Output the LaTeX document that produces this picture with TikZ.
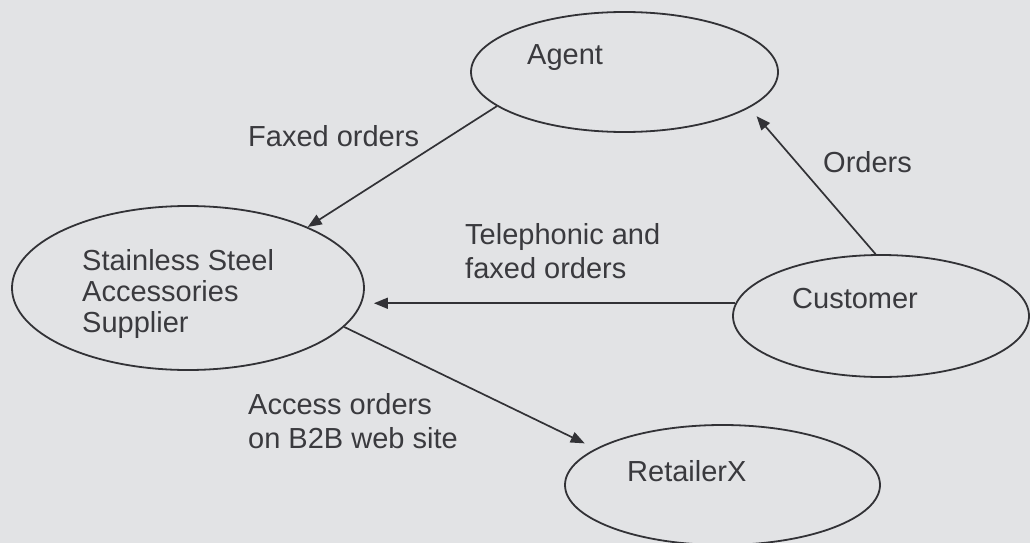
\documentclass[tikz,border=0pt]{standalone}
\usepackage{fontspec}
\setmainfont{Liberation Sans}
\usetikzlibrary{shapes.geometric,arrows.meta}
\definecolor{bgc}{RGB}{226,227,229}
\definecolor{linec}{RGB}{50,50,54}
\definecolor{textc}{RGB}{58,58,62}
\tikzset{
  oval/.style={draw=linec, line width=1.8pt, ellipse, inner sep=0pt},
  lbl/.style={anchor=base west, inner sep=0pt, text=textc, font=\fontsize{29}{34}\selectfont},
  arr/.style={draw=linec, line width=1.7pt, -{Triangle[length=14pt,width=11pt]}}
}
\begin{document}
\begin{tikzpicture}[x=1pt,y=-1pt]
\fill[bgc] (0,0) rectangle (1030,543);
\useasboundingbox (0,0) rectangle (1030,543);
% ovals
\node[oval, minimum width=307pt, minimum height=120pt] (agent) at (624.5,72) {};
\node[oval, minimum width=352pt, minimum height=164pt] (sup) at (188,288) {};
\node[oval, minimum width=296pt, minimum height=122pt] (cust) at (881,316) {};
\node[oval, minimum width=315pt, minimum height=120pt] (ret) at (722.5,485) {};
% oval texts
\node[lbl] (tagent) at (527,65) {Agent};
\node[lbl] (tsup) at (82,270) {\vtop{\baselineskip=31pt\hbox{Stainless Steel}\hbox{Accessories}\hbox{Supplier}}};
\node[lbl] (tcust) at (792,308) {Customer};
\node[lbl] (tret) at (627,481) {RetailerX};
% connectors
\draw[arr] (agent.195.7) -- (sup.27.9);
\draw[arr, shorten >=9pt] (cust.175) -- (cust.175 -| sup.east);
\draw[arr, shorten >=11pt] (cust.95.6) -- (agent.-16);
\draw[arr, shorten >=12pt] (sup.-14) -- (ret.164.9);
% connector labels
\node[lbl] (lfax) at (248,146) {Faxed orders};
\node[lbl] (lord) at (823,172) {Orders};
\node[lbl] (ltel) at (465,244) {\vtop{\baselineskip=34pt\hbox{Telephonic and}\hbox{faxed orders}}};
\node[lbl] (lacc) at (248,414) {\vtop{\baselineskip=34pt\hbox{Access orders}\hbox{on B2B web site}}};
\end{tikzpicture}
\end{document}
